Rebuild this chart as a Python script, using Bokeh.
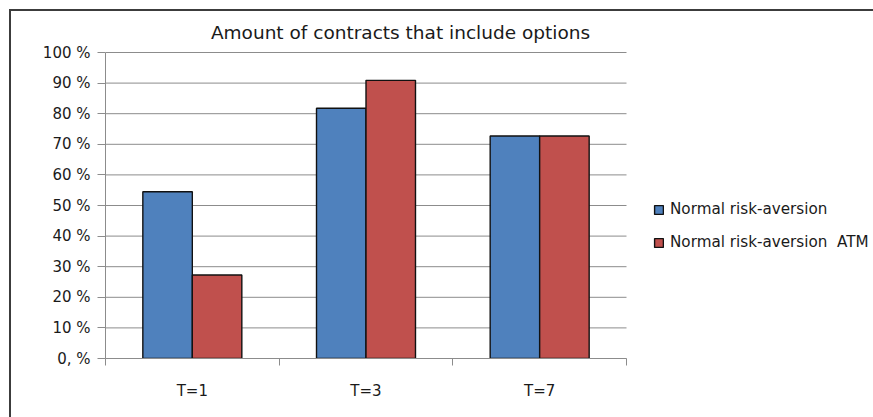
from bokeh.plotting import figure
from bokeh.models import (FixedTicker, Legend, LegendItem, Label, Range1d, ColumnDataSource)
from bokeh.embed import file_html
from bokeh.resources import INLINE

# Data
categories = ["T=1", "T=3", "T=7"]
series_names = ["Normal risk-aversion", "Normal risk-aversion  ATM"]
normal = [0.545, 0.818, 0.727]
normal_atm = [0.273, 0.909, 0.727]
y_ticks = [0.0, 0.1, 0.2, 0.3, 0.4, 0.5, 0.6, 0.7, 0.8, 0.9, 1.0]
y_tick_labels = ["0, %", "10 %", "20 %", "30 %", "40 %", "50 %", "60 %", "70 %", "80 %", "90 %", "100 %"]
title_text = "Amount of contracts that include options"

BLUE = "#4F81BD"
RED = "#C0504D"
GRID = "#8c8c8c"
FONT = "DejaVu Sans"
TXT = "#1a1a1a"
FRAME = "#3c3c3c"

OFF = 11  # page offset of canvas (margin 9 + border 2)
PL, PR, PT, PB = 105, 626, 52, 358
FR_W = 873 - PL
FR_H = PB - OFF
n = len(categories)
x_end = FR_W / ((PR - PL) / n)
y_end = FR_H / (PB - PT)

p = figure(frame_width=FR_W, frame_height=FR_H, output_backend="svg", toolbar_location=None,
           x_range=Range1d(0, x_end), y_range=Range1d(0, y_end),
           min_border_left=PL - OFF, min_border_right=0,
           min_border_top=0, min_border_bottom=417 - PB)
p.margin = (9, 0, 0, 9)
p.styles = {"border-top": f"2px solid {FRAME}", "border-left": f"2px solid {FRAME}"}
p.outline_line_color = None
p.background_fill_color = "white"
p.border_fill_color = "white"
p.xgrid.grid_line_color = None
p.ygrid.grid_line_color = None

p.segment(x0=[0] * len(y_ticks), x1=[n] * len(y_ticks), y0=y_ticks, y1=y_ticks,
          line_color=GRID, line_width=1)

bw = 0.285
centers = [i + 0.5 for i in range(n)]
src = ColumnDataSource(dict(
    xb=[c - bw / 2 for c in centers], xr=[c + bw / 2 for c in centers],
    normal=normal, atm=normal_atm))
r1 = p.vbar(x="xb", top="normal", width=bw, source=src, fill_color=BLUE,
            line_color="#111111", line_width=1.4)
r2 = p.vbar(x="xr", top="atm", width=bw, source=src, fill_color=RED,
            line_color="#111111", line_width=1.4)

p.xaxis.bounds = (0, n)
p.xaxis.ticker = FixedTicker(ticks=centers, minor_ticks=list(range(n + 1)))
p.xaxis.major_label_overrides = {c: lab for c, lab in zip(centers, categories)}
p.xaxis.major_tick_line_color = None
p.xaxis.major_tick_out = 0
p.xaxis.major_tick_in = 0
p.xaxis.minor_tick_out = 7
p.xaxis.minor_tick_in = 0
p.xaxis.minor_tick_line_color = GRID
p.xaxis.axis_line_color = GRID
p.xaxis.major_label_standoff = 16

p.yaxis.bounds = (0, 1)
p.yaxis.ticker = FixedTicker(ticks=y_ticks)
p.yaxis.major_label_overrides = {t: lab for t, lab in zip(y_ticks, y_tick_labels)}
p.yaxis.major_tick_out = 8
p.yaxis.major_tick_in = 0
p.yaxis.minor_tick_line_color = None
p.yaxis.major_tick_line_color = GRID
p.yaxis.axis_line_color = GRID
p.yaxis.major_label_standoff = 7

for ax in (p.xaxis, p.yaxis):
    ax.major_label_text_font = FONT
    ax.major_label_text_font_size = "15px"
    ax.major_label_text_color = TXT

p.add_layout(Label(x=400 - PL, y=PB - 32, x_units="screen", y_units="screen", text=title_text,
                   text_font=FONT, text_font_size="18.5px", text_color=TXT,
                   text_align="center", text_baseline="middle"))

legend = Legend(items=[LegendItem(label=series_names[0], renderers=[r1]),
                       LegendItem(label=series_names[1], renderers=[r2])],
                location=(653 - PL, PB - 252), orientation="vertical",
                glyph_width=11, glyph_height=11, label_height=20, spacing=13,
                padding=0, margin=0, label_standoff=6,
                border_line_color=None, background_fill_alpha=0,
                label_text_font=FONT, label_text_font_size="15.2px", label_text_color=TXT)
p.add_layout(legend, "center")

open("out.html", "w").write(file_html(p, INLINE))
